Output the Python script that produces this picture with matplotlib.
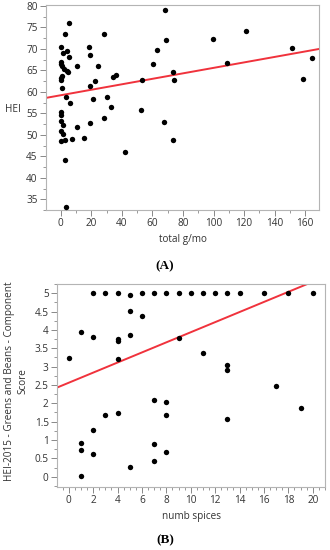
import numpy as np
import matplotlib
matplotlib.use('Agg')
from matplotlib import pyplot as plt
from matplotlib.ticker import MultipleLocator

plt.rcParams['font.family'] = ['Open Sans', 'DejaVu Sans']

# panel A: HEI vs total g/mo
a_x = [0, 1.3, 2.8, 5.2, 4.1, 5.4, 0, 0.4, 0.9, 2.4, 3.9, 4.6, 0.9, 0.2, 0.0, 0.7,
       3.3, 5.9, 10.9, 10.9, 0, 0, 0, 1.7, 0, 1.7, 18.5, 19.0, 28.3, 19.2, 22.7,
       24.4, 20.9, 19.4, 28.3, 30.5, 34.4, 35.9, 33.0, 53.2, 52.5, 60.4, 63.2,
       68.4, 69.1, 67.8, 73.5, 74.3, 99.4, 109.0, 121.2, 151.3, 158.3, 164.6,
       0.2, 2.8, 7.6, 15.5, 2.8, 42.0, 73.7, 3.3]
a_y = [70.5, 69.0, 73.4, 76.0, 69.5, 68.2, 67.0, 66.5, 65.9, 65.3, 64.9, 64.7, 63.6,
       63.1, 62.8, 61.0, 58.9, 57.5, 66.0, 51.8, 55.3, 54.7, 53.1, 52.3, 50.9, 50.3,
       70.5, 68.5, 73.5, 61.3, 62.4, 66.0, 58.4, 52.7, 53.9, 58.7, 63.4, 64.0, 56.5,
       62.7, 55.7, 66.5, 69.7, 79.1, 72.1, 53.0, 64.7, 62.7, 72.4, 66.8, 74.1, 70.1,
       63.0, 67.9, 48.5, 48.9, 49.1, 49.2, 44.1, 46.1, 48.9, 33.2]
a_fit = (59.2, 0.0637)

# panel B: greens and beans score vs number of spices
b_x = [2, 3, 4, 5, 6, 7, 8, 9, 10, 11, 12, 13, 14, 16, 18, 20,
       5, 6, 1, 2, 4, 4, 5, 9, 0, 4, 11, 13, 13, 17, 7, 8, 19,
       3, 4, 8, 2, 13, 1, 1, 2, 7, 8, 7, 5, 1]
b_y = [5, 5, 5, 4.96, 5, 5, 5, 5, 5, 5, 5, 5, 5, 5, 5, 5,
       4.51, 4.37, 3.93, 3.80, 3.75, 3.70, 3.85, 3.77, 3.24, 3.20, 3.37, 3.04, 2.91,
       2.47, 2.10, 2.03, 1.86, 1.69, 1.74, 1.67, 1.27, 1.56, 0.93, 0.72, 0.63, 0.90,
       0.66, 0.44, 0.26, 0.01]
b_fit = (2.56, 0.1376)

spine_c = '#b4b4b4'
text_c = '#333333'
fs = 7.2


def style_axes(ax):
    for s in ax.spines.values():
        s.set_color(spine_c)
        s.set_linewidth(0.8)
    ax.tick_params(which='both', direction='out', color='#888888', labelcolor=text_c,
                   labelsize=fs, top=False, right=False, pad=2)
    ax.tick_params(which='major', length=4, width=0.7)
    ax.tick_params(which='minor', length=2, width=0.6)


fig = plt.figure(figsize=(3.3, 5.5), dpi=100)

ax1 = fig.add_axes([46 / 330, 1 - 210 / 550, 273 / 330, 205 / 550])
ax1.scatter(a_x, a_y, s=15, color='black', zorder=3, linewidths=0)
xs = np.array([-10, 170])
ax1.plot(xs, a_fit[0] + a_fit[1] * xs, color='#f0323c', lw=1.4, zorder=2)
ax1.set_xlim(-9.6, 169)
ax1.set_ylim(32.5, 80.2)
ax1.set_xticks(np.arange(0, 161, 20))
ax1.set_yticks(np.arange(35, 81, 5))
ax1.xaxis.set_minor_locator(MultipleLocator(10))
ax1.yaxis.set_minor_locator(MultipleLocator(2.5))
style_axes(ax1)
ax1.set_xlabel('total g/mo', fontsize=fs, color=text_c)
ax1.xaxis.set_label_coords(0.5, -0.115)
ax1.set_ylabel('HEI', fontsize=fs, color=text_c, rotation=0, va='center', ha='center')
ax1.yaxis.set_label_coords(-0.121, 0.49)
fig.text(0.5, 1 - 266 / 550, '(A)', ha='center', va='center', fontsize=9.5,
         fontweight='bold', family='Liberation Serif')

ax2 = fig.add_axes([57 / 330, 1 - 487 / 550, 268 / 330, 203 / 550])
ax2.scatter(b_x, b_y, s=15, color='black', zorder=3, linewidths=0)
xs = np.array([-1, 21])
ax2.plot(xs, b_fit[0] + b_fit[1] * xs, color='#f0323c', lw=1.4, zorder=2)
ax2.set_xlim(-0.96, 21)
ax2.set_ylim(-0.28, 5.25)
ax2.set_xticks(np.arange(0, 21, 2))
ax2.set_yticks(np.arange(0, 5.01, 0.5))
ax2.set_yticklabels(['0', '0.5', '1', '1.5', '2', '2.5', '3', '3.5', '4', '4.5', '5'])
ax2.xaxis.set_minor_locator(MultipleLocator(0.5))
ax2.yaxis.set_minor_locator(MultipleLocator(0.25))
style_axes(ax2)
ax2.set_xlabel('numb spices', fontsize=fs, color=text_c)
ax2.xaxis.set_label_coords(0.5, -0.12)
ax2.set_ylabel('HEI-2015 - Greens and Beans - Component\nScore', fontsize=fs,
               color=text_c, linespacing=1.25, va='center', ha='center')
ax2.yaxis.set_label_coords(-0.153, 0.52)
fig.text(0.5, 1 - 540 / 550, '(B)', ha='center', va='center', fontsize=9.5,
         fontweight='bold', family='Liberation Serif')

fig.savefig('out.png', dpi=100)
